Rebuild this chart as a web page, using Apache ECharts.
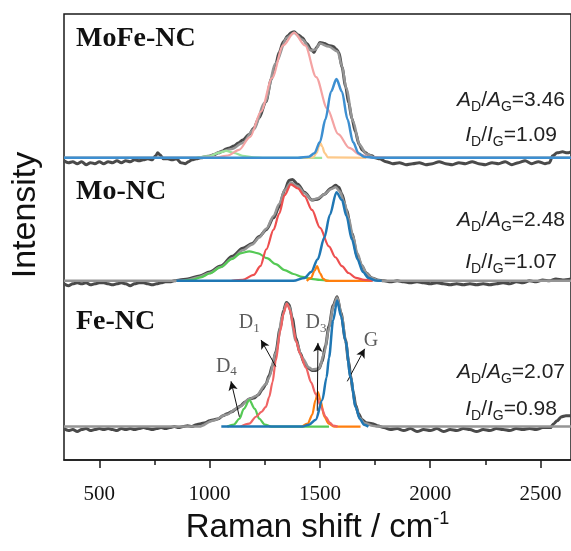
<!DOCTYPE html>
<html><head><meta charset="utf-8">
<script src="https://cdn.jsdelivr.net/npm/echarts@6/dist/echarts.min.js"></script>
<style>html,body{margin:0;padding:0;background:#fff}#c{width:571px;height:551px}</style>
</head><body><div id="c"></div>
<script>
// ---- axis ----
const xMin = 340, xMax = 2638;
const majorTicks = [500, 1000, 1500, 2000, 2500];
const minorTicks = [750, 1250, 1750, 2250];
const panelNames = ['MoFe-NC', 'Mo-NC', 'Fe-NC'];
const ratioA = ['3.46', '2.48', '2.07'];
const ratioI = ['1.09', '1.07', '0.98'];

// ---- MoFe-NC (intensity, arbitrary units) ----
const mofeData = [[340,-3],[360,-5],[380,-4],[400,-6],[420,-4],[440,-7],[460,-5],[480,-6],[500,-4],[520,-6],[540,-4],[560,-5],[580,-3],[600,-5],[620,-3],[640,-4],[660,-2],[680,-3],[700,-2],[720,-1],[740,-2],[755,2],[765,5],[775,3],[790,-1],[810,-1],[830,-2],[850,-1],[870,-5],[890,-6],[905,-4],[920,-2],[940,-1],[960,0],[990,1],[1020,3],[1040,5],[1060,7],[1075,9],[1090,10],[1110,12],[1130,15],[1150,18],[1180,24],[1200,30],[1225,41],[1255,57],[1280,80],[1300,95],[1315,107],[1335,118],[1355,124],[1370,127],[1383,128],[1400,125],[1420,122],[1440,116],[1460,110],[1473,107],[1485,112],[1500,117],[1520,116],[1540,114],[1560,113],[1575,110],[1586,107],[1600,92],[1616,73],[1630,56],[1645,40],[1660,27],[1677,14],[1692,8],[1707,5],[1720,3],[1735,2],[1750,0],[1770,-1],[1800,-4],[1830,-6],[1860,-5],[1890,-7],[1920,-6],[1950,-5],[1980,-7],[2010,-6],[2040,-4],[2070,-6],[2100,-7],[2130,-5],[2160,-6],[2190,-4],[2220,-6],[2250,-7],[2280,-5],[2310,-6],[2340,-4],[2370,-7],[2400,-5],[2430,-3],[2460,-6],[2490,-4],[2520,-6],[2540,-5],[2555,2],[2575,5],[2600,6],[2620,5],[2638,6]];
const mofeFit = [[340,0],[950,0],[1000,2],[1050,6],[1100,9],[1150,15],[1200,29],[1250,56],[1300,96],[1350,122],[1383,127],[1420,120],[1460,109],[1480,110],[1500,116],[1540,113],[1580,108],[1600,93],[1620,70],[1650,37],[1680,13],[1710,4],[1750,0],[2638,0]];
const mofeD1 = [[950,0],[1033,0.5],[1083,2.3],[1133,8],[1183,21],[1233,47],[1283,81],[1333,114],[1383,127],[1433,114],[1483,82],[1533,50],[1583,24],[1633,10],[1683,3],[1733,0.5],[1800,0]];
const mofeG = [[340,0],[1400,0],[1450,1],[1475,4.7],[1500,16],[1525,39],[1550,67],[1575,80],[1600,67],[1625,39],[1650,16],[1675,4.7],[1700,1],[1750,0],[2638,0]];
const mofeD3 = [[1420,0],[1470,0.5],[1485,5],[1495,11],[1503,15],[1511,11],[1521,5],[1536,0.5],[1710,0]];
const mofeD4 = [[940,0],[1000,1.5],[1040,5],[1075,7],[1110,5],[1150,2],[1200,0.5],[1250,0],[1510,0]];

// ---- Mo-NC ----
const moData = [[340,-3],[360,-5],[380,-3],[400,-2],[420,-3],[440,-2],[460,-4],[480,-3],[500,-2],[520,-2],[540,-3],[560,-4],[580,-3],[600,-2],[620,-3],[640,-5],[660,-3],[680,-2],[700,-2],[720,-3],[740,-4],[760,-3],[780,-2],[800,-1],[820,-1],[840,0],[864,1],[900,2],[954,5],[1000,9],[1050,15],[1103,25],[1150,33],[1193,38],[1225,45],[1257,52],[1290,64],[1315,75],[1340,92],[1360,102],[1375,103],[1400,98],[1430,90],[1464,82],[1490,83],[1520,88],[1550,94],[1571,97],[1585,95],[1600,88],[1620,72],[1645,48],[1670,25],[1690,15],[1710,8],[1735,3],[1760,1],[1790,0],[1820,-1],[1850,0],[1880,-1],[1910,-2],[1940,-1],[1970,-2],[2000,-3],[2030,-2],[2060,-3],[2090,-4],[2120,-3],[2150,-4],[2180,-3],[2210,-4],[2240,-3],[2270,-4],[2300,-3],[2330,-2],[2360,-3],[2390,-1],[2420,-2],[2450,0],[2480,-1],[2510,1],[2540,0],[2570,2],[2600,1],[2638,2]];
const moFit = [[340,0],[860,0],[900,1],[954,4],[1000,8],[1050,14],[1103,23],[1150,31],[1193,37],[1225,44],[1257,53],[1290,66],[1315,78],[1340,92],[1368,100],[1400,96],[1430,89],[1464,82],[1490,84],[1520,88],[1550,93],[1571,95],[1590,91],[1610,80],[1630,64],[1650,45],[1670,28],[1690,16],[1710,8],[1735,3],[1760,1],[1780,0],[2638,0]];
const moD1 = [[1100,0],[1150,1],[1200,6],[1230,15],[1257,32],[1290,52],[1315,68],[1340,87],[1368,98],[1400,94],[1430,86],[1464,72],[1500,54],[1541,35],[1570,24],[1600,15],[1630,8],[1663,3],[1700,1],[1740,0]];
const moD4 = [[880,0],[920,1],[960,3.5],[1000,7.5],[1050,14],[1100,22],[1140,28],[1180,30],[1220,28],[1260,23],[1300,17],[1340,11],[1380,7],[1420,4],[1460,2],[1500,1],[1540,0]];
const moG = [[850,0],[1380,0],[1430,3],[1460,9],[1490,22],[1520,44],[1545,67],[1575,90],[1600,82],[1620,66],[1645,42],[1670,22],[1695,9],[1720,3],[1750,0.5],[1780,0]];
const moD3 = [[1440,0],[1460,3],[1475,10],[1487,15],[1500,8],[1515,2],[1530,0],[1735,0]];

// ---- Fe-NC ----
const feData = [[340,-2],[360,-4],[380,-3],[400,-5],[420,-3],[440,-2],[460,-4],[480,-3],[500,-2],[520,-3],[540,-2],[560,-3],[580,-4],[600,-2],[620,-3],[640,-2],[660,-3],[680,-2],[700,-1],[720,-2],[740,-3],[760,-2],[780,-1],[800,-2],[820,-1],[840,0],[860,-1],[880,0],[900,1],[920,0],[940,2],[960,3],[980,4],[1000,6],[1020,7],[1040,8],[1060,11],[1080,13],[1100,15],[1120,18],[1140,21],[1160,25],[1180,28],[1200,29],[1220,32],[1240,38],[1255,43],[1270,52],[1285,62],[1300,76],[1320,100],[1335,118],[1348,126],[1360,124],[1375,110],[1391,90],[1410,75],[1430,64],[1450,59],[1466,57],[1480,57],[1496,59],[1510,66],[1525,82],[1541,102],[1560,123],[1578,132],[1595,116],[1616,88],[1630,66],[1639,52],[1650,36],[1662,22],[1675,13],[1691,7],[1710,4],[1737,3],[1760,1],[1790,-1],[1820,-3],[1850,-2],[1880,-4],[1910,-2],[1940,-5],[1970,-3],[2000,-4],[2030,-2],[2060,-5],[2090,-3],[2120,-4],[2150,-2],[2180,-3],[2210,-5],[2240,-3],[2270,-4],[2300,-2],[2330,-3],[2360,-4],[2390,-2],[2420,-3],[2450,-2],[2480,-3],[2510,-1],[2545,-1],[2560,3],[2575,6],[2595,10],[2615,11],[2638,11]];
const feFit = [[340,0],[954,0],[1014,6],[1075,12],[1135,20],[1180,28],[1210,31],[1255,43],[1270,50],[1300,75],[1330,112],[1348,125],[1360,122],[1391,87],[1420,70],[1450,60],[1466,58],[1496,59],[1520,75],[1541,100],[1560,122],[1578,131],[1600,112],[1616,87],[1639,50],[1662,20],[1680,9],[1700,4],[1737,1],[1760,0],[2638,0]];
const feD1 = [[1140,0],[1180,3],[1210,10],[1235,15],[1255,20],[1270,30],[1285,45],[1300,67],[1320,97],[1335,115],[1350,125],[1365,118],[1380,100],[1391,87],[1410,74],[1436,60],[1460,45],[1481,33],[1505,20],[1526,10],[1545,4],[1560,1],[1580,0]];
const feD4 = [[1080,0],[1110,2],[1135,8],[1155,18],[1180,27],[1205,18],[1225,8],[1250,2],[1280,0],[1541,0]];
const feG = [[1053,0],[1420,0],[1451,2],[1481,7],[1511,27],[1530,50],[1541,70],[1560,108],[1578,128],[1596,112],[1616,87],[1639,50],[1662,20],[1680,8],[1700,2],[1720,0]];
const feD3 = [[1420,0],[1445,3],[1465,12],[1480,27],[1491,35],[1502,27],[1520,10],[1540,3],[1564,0],[1684,0]];
const feLabels = [[1076,61,'D','4'],[1180,105,'D','1'],[1482,105,'D','3'],[1731,87,'G','']];
const feArrows = [[[1135,10],[1097,46]],[[1300,61],[1233,88]],[[1488,16],[1491,85]],[[1624,46],[1703,79]]];

// ---- layout ----
const chart = echarts.init(document.getElementById('c'), null, {renderer:'canvas'});
const SANS = 'Liberation Sans', SERIF = 'Liberation Serif';
function ln(data, color, yi, w, z) {
  return {type:'line', data, xAxisIndex:0, yAxisIndex:yi, showSymbol:false, symbol:'none',
    smooth:0.3, smoothMonotone:'x', lineStyle:{color, width:w}, z, silent:true, clip:true};
}
const cols = [
  {r:'#f4a3a3', b:'#3d8fd1', o:'#fdc98a', g:'#9be39b'},
  {r:'#ee4f4f', b:'#1f77b4', o:'#ff7f0e', g:'#55c955'},
  {r:'#f06464', b:'#1f77b4', o:'#ff7f0e', g:'#55c955'}
];
const panels = [
  {data:mofeData, fit:mofeFit, d1:mofeD1, g:mofeG, d3:mofeD3, d4:mofeD4},
  {data:moData, fit:moFit, d1:moD1, g:moG, d3:moD3, d4:moD4},
  {data:feData, fit:feFit, d1:feD1, g:feG, d3:feD3, d4:feD4}
];
const series = [];
panels.forEach((p, i) => {
  const c = cols[i];
  series.push(ln(p.data, '#4a4a4a', i, 3, 2));
  series.push(ln(p.fit, '#959595', i, 2.5, 3));
  series.push(ln(p.d4, c.g, i, 2.2, 4));
  series.push(ln(p.d3, c.o, i, 2.2, 4));
  series.push(ln(p.d1, c.r, i, 2.2, 4));
  series.push(ln(p.g, c.b, i, 2.5, 5));
});
series.push({
  type:'scatter', xAxisIndex:0, yAxisIndex:2, symbolSize:1, itemStyle:{color:'rgba(0,0,0,0)'}, silent:true, z:10,
  data: feLabels,
  label:{show:true, position:'inside', formatter:(p)=>'{d|'+p.value[2]+'}'+(p.value[3]?'{s|'+p.value[3]+'}':''),
    rich:{d:{fontFamily:SERIF, fontSize:20, color:'#333', lineHeight:22},
          s:{fontFamily:SERIF, fontSize:13, color:'#333', lineHeight:13, padding:[10,0,0,0]}}},
  labelLayout:{hideOverlap:false},
  markLine:{silent:true, symbol:['none','arrow'], symbolSize:[7,9], animation:false,
    lineStyle:{color:'#111', width:1, type:'solid'}, label:{show:false},
    data: feArrows.map(a => [{coord:a[0]}, {coord:a[1]}])}
});

function ratioText(L, v) {
  return '{i|'+L+'}{s|D}{n|/}{i|'+L+'}{s|G}{n|='+v+'}';
}
const rich = {
  i:{fontFamily:SANS, fontStyle:'italic', fontSize:21, lineHeight:24},
  n:{fontFamily:SANS, fontSize:21, lineHeight:24},
  s:{fontFamily:SANS, fontSize:14, lineHeight:14, padding:[14,0,0,0]}
};
const nameY = [41, 194, 324];
const ratioAY = [100, 220, 372];
const ratioIY = [135, 262, 409];
const graphics = [];
panelNames.forEach((n, i) => {
  graphics.push({type:'text', left:76, top:nameY[i]-16, style:{text:n, font:'bold 28px "'+SERIF+'"', fill:'#111'}});
  graphics.push({type:'text', x:511, y:ratioAY[i], style:{text:ratioText('A', ratioA[i]), rich, align:'center', verticalAlign:'middle', fill:'#222'}});
  graphics.push({type:'text', x:511, y:ratioIY[i], style:{text:ratioText('I', ratioI[i]), rich, align:'center', verticalAlign:'middle', fill:'#222'}});
});
graphics.push({type:'text', x:26, y:215, rotation:Math.PI/2,
  style:{text:'Intensity', font:'34px "'+SANS+'"', fill:'#111', align:'center', verticalAlign:'middle'}});

chart.setOption({
  animation:false,
  backgroundColor:'#fff',
  grid:{left:64, top:14, right:-2, bottom:84, show:true, borderColor:'#1a1a1a', borderWidth:1.5},
  xAxis:[
    {type:'value', min:xMin, max:xMax, position:'bottom',
     axisLine:{show:true, onZero:false, lineStyle:{color:'#1a1a1a', width:1.5}},
     axisTick:{show:true, inside:false, length:8, customValues:majorTicks, lineStyle:{color:'#1a1a1a', width:1.5}},
     axisLabel:{show:true, customValues:majorTicks, margin:24, fontFamily:SERIF, fontSize:21, color:'#111',
                formatter:(v)=>String(v)},
     splitLine:{show:false},
     name:'{a|Raman shift / cm}{s|-1}', nameLocation:'middle', nameGap:49,
     nameTextStyle:{rich:{a:{fontFamily:SANS, fontSize:33, color:'#111', lineHeight:36},
                          s:{fontFamily:SANS, fontSize:18, color:'#111', lineHeight:18, padding:[0,0,18,0]}}}},
    {type:'value', min:xMin, max:xMax, position:'bottom',
     axisLine:{show:false, onZero:false},
     axisTick:{show:true, inside:false, length:5, customValues:minorTicks, lineStyle:{color:'#1a1a1a', width:1.5}},
     axisLabel:{show:false}, splitLine:{show:false}}
  ],
  yAxis:[
    {type:'value', min:-307, max:146, show:false},
    {type:'value', min:-182, max:271, show:false},
    {type:'value', min:-34, max:419, show:false}
  ],
  series,
  graphic:graphics
});
</script></body></html>
